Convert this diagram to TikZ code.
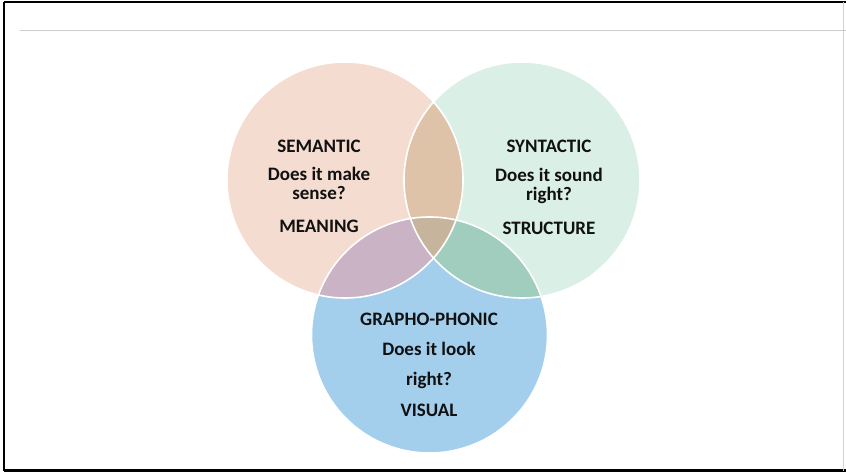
\documentclass[tikz,border=0pt]{standalone}
\usepackage{fontspec}
\setmainfont{Carlito}
\begin{document}
\begin{tikzpicture}[x=1pt,y=-1pt]
  % colours of the three sets and their overlaps
  \definecolor{semfill}{HTML}{F5DCD0}
  \definecolor{synfill}{HTML}{DAEFE5}
  \definecolor{visfill}{HTML}{A3CEEC}
  \definecolor{semsyn}{HTML}{DFC3A8}
  \definecolor{semvis}{HTML}{C9B3C5}
  \definecolor{synvis}{HTML}{A0CDBE}
  \definecolor{allthree}{HTML}{C6B49C}
  \definecolor{inktext}{HTML}{111111}
  \tikzset{
    label/.style={anchor=base, inner sep=0pt, text=inktext,
      font=\bfseries\fontsize{19}{19}\selectfont},
    rim/.style={draw=white, line width=1.6pt}
  }
  \useasboundingbox (0,0) rectangle (846,474);
  \fill[white] (0,0) rectangle (846,474);

  % frame and rule
  \draw[line width=2.6pt] (4,2) -- (846,2);
  \draw[line width=2.6pt] (4,2) -- (4,471);
  \draw[line width=2.6pt] (4,470.5) -- (846,470.5);
  \draw[gray!35, line width=1pt] (843.5,2) -- (843.5,471);
  \draw[gray!40, line width=0.8pt] (20,30) -- (846,30);

  % circle centres
  \coordinate (sem) at (345,180);
  \coordinate (syn) at (522,180);
  \coordinate (vis) at (429.5,335);
  \def\rr{118}

  % base fills
  \fill[semfill] (sem) circle (\rr);
  \fill[synfill] (syn) circle (\rr);
  \fill[visfill] (vis) circle (\rr);
  % pairwise overlaps
  \begin{scope}
    \clip (sem) circle (\rr);
    \fill[semsyn] (syn) circle (\rr);
    \fill[semvis] (vis) circle (\rr);
  \end{scope}
  \begin{scope}
    \clip (syn) circle (\rr);
    \fill[synvis] (vis) circle (\rr);
  \end{scope}
  % centre region
  \begin{scope}
    \clip (sem) circle (\rr);
    \clip (syn) circle (\rr);
    \fill[allthree] (vis) circle (\rr);
  \end{scope}
  % white rims
  \draw[rim] (sem) circle (\rr);
  \draw[rim] (syn) circle (\rr);
  \draw[rim] (vis) circle (\rr);

  % texts
  \node[label] (t1a) at (319,152) {SEMANTIC};
  \node[label] (t1b) at (319,180) {Does it make};
  \node[label] (t1c) at (319,199.5) {sense?};
  \node[label] (t1d) at (319,232) {MEANING};

  \node[label] (t2a) at (549,152) {SYNTACTIC};
  \node[label] (t2b) at (549,181) {Does it sound};
  \node[label] (t2c) at (549,200.5) {right?};
  \node[label] (t2d) at (549,234) {STRUCTURE};

  \node[label] (t3a) at (429,325) {GRAPHO-PHONIC};
  \node[label] (t3b) at (429,355) {Does it look};
  \node[label] (t3c) at (429,385) {right?};
  \node[label] (t3d) at (429,416) {VISUAL};
\end{tikzpicture}
\end{document}
